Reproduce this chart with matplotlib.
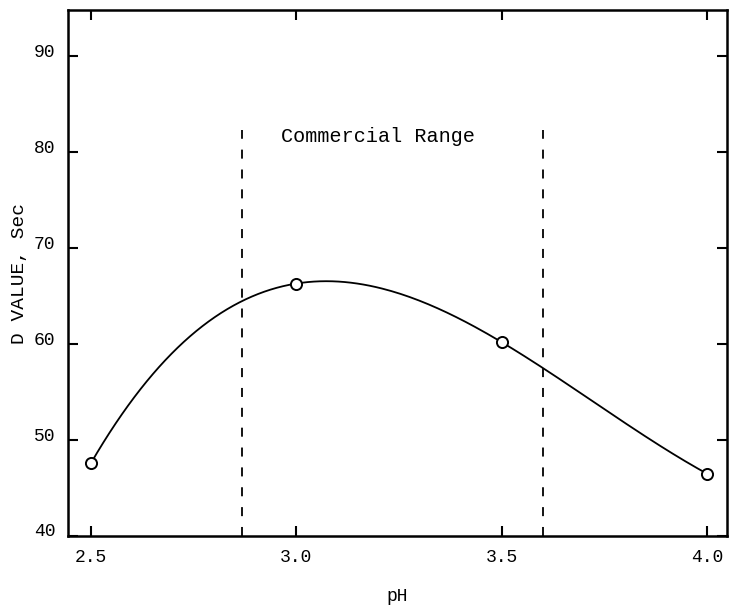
import numpy as np
import matplotlib
matplotlib.use("Agg")
import matplotlib.pyplot as plt
from matplotlib import transforms

# Data
ph = [2.5, 3.0, 3.5, 4.0]
d_value = [47.6, 66.3, 60.2, 46.5]
range_lo, range_hi = 2.868, 3.602
xticks = [2.5, 3.0, 3.5, 4.0]
xtick_labels = ["2.5", "3.0", "3.5", "4.0"]
yticks = [40, 50, 60, 70, 80, 90]

plt.rcParams['font.family'] = ['Liberation Mono', 'DejaVu Sans Mono']

fig = plt.figure(figsize=(7.32, 6.12), dpi=100)
ax = fig.add_axes([68/732, 1 - 536/612, (727-68)/732, (536-10)/612])

# smooth curve through the points
coef = np.polyfit(ph, d_value, 3)
xs = np.linspace(ph[0], ph[-1], 200)
ax.plot(xs, np.polyval(coef, xs), color='k', lw=1.3)
ax.plot(ph, d_value, 'o', ms=8, mfc='white', mec='k', mew=1.4)

for x in (range_lo, range_hi):
    ax.plot([x, x], [40, 82.3], color='k', lw=1.3, dashes=(5, 6))
ax.text((range_lo + range_hi) / 2 - 0.035, 81.6, "Commercial Range", ha='center',
        va='center', fontsize=14.5)

ax.set_xlim(2.444, 4.049)
ax.set_ylim(40, 94.8)
ax.set_xticks(xticks)
ax.set_xticklabels(xtick_labels)
ax.set_yticks(yticks)
ax.tick_params(direction='in', length=7, width=1.5, labelsize=13, top=True,
               right=True, pad=9)
# y labels sit a little above their ticks
shift = transforms.ScaledTranslation(0, 6/100, fig.dpi_scale_trans)
for lab in ax.get_yticklabels():
    lab.set_transform(lab.get_transform() + shift)
for s in ax.spines.values():
    s.set_linewidth(1.8)

ax.set_xlabel("pH", fontsize=13, labelpad=16)
ax.set_ylabel("D VALUE, Sec", fontsize=14, labelpad=4)

fig.savefig("out.png", dpi=100)
